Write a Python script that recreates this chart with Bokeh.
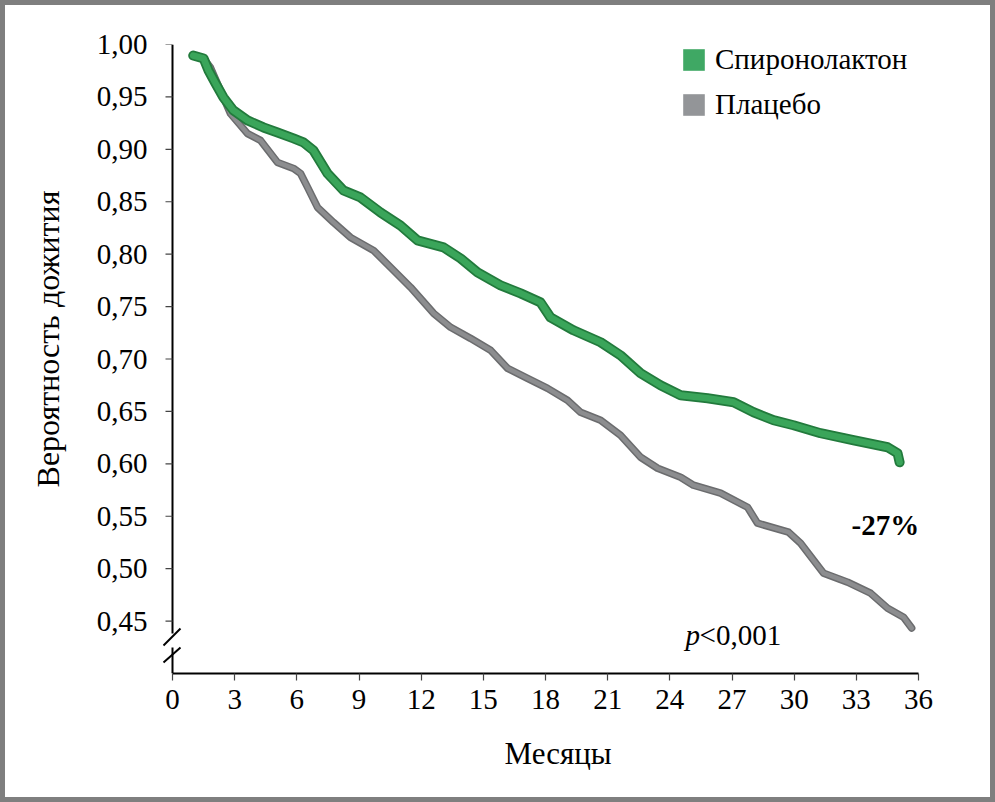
import math
from bokeh.plotting import figure
from bokeh.models import FixedTicker, Legend, LegendItem, Label, Title
from bokeh.embed import file_html
from bokeh.resources import INLINE

# ---- data ----
series_names = ["Спиронолактон", "Плацебо"]

months_spiro = [1.0, 1.5, 1.74, 2.08, 2.46, 2.94, 3.62, 4.39, 5.07, 5.84, 6.32, 6.8,
                7.48, 8.25, 9.07, 10.04, 11.0, 11.82, 13.08, 13.9, 14.72, 15.83, 16.8,
                17.76, 18.24, 19.35, 20.66, 21.62, 22.59, 23.55, 24.52, 25.82, 27.08,
                28.04, 29.0, 29.97, 31.27, 32.87, 34.51, 34.99, 35.09]
surv_spiro = [0.9895, 0.9867, 0.9752, 0.9628, 0.9495, 0.9371, 0.9276, 0.9209, 0.9161,
              0.9104, 0.9066, 0.899, 0.877, 0.8608, 0.8541, 0.8398, 0.8274, 0.8132,
              0.8065, 0.796, 0.7826, 0.7703, 0.7626, 0.754, 0.7397, 0.7274, 0.716,
              0.7035, 0.6864, 0.6749, 0.6654, 0.6625, 0.6587, 0.6492, 0.6416, 0.6368,
              0.6292, 0.6225, 0.6158, 0.6101, 0.6015]

months_plac = [1.0, 1.5, 1.83, 2.46, 2.8, 3.62, 4.25, 5.07, 5.84, 6.18, 6.52, 7.0, 7.77,
               8.59, 9.7, 10.67, 11.49, 12.6, 13.42, 14.38, 15.35, 16.17, 17.13, 18.1,
               19.06, 19.69, 20.66, 21.62, 22.59, 23.41, 24.52, 25.14, 26.45, 27.75,
               28.23, 29.73, 30.31, 30.94, 31.42, 32.58, 33.69, 34.51, 35.28, 35.67]
surv_plac = [0.9895, 0.9867, 0.978, 0.9495, 0.934, 0.915, 0.9085, 0.8875, 0.8818, 0.877,
             0.8637, 0.8446, 0.8303, 0.816, 0.8036, 0.7846, 0.7684, 0.7436, 0.7302,
             0.7197, 0.7083, 0.6911, 0.6816, 0.672, 0.6606, 0.6492, 0.6416, 0.6273,
             0.6063, 0.5958, 0.5872, 0.5796, 0.572, 0.5586, 0.5434, 0.5348, 0.5243,
             0.508, 0.4957, 0.4871, 0.4766, 0.4623, 0.4537, 0.4433]

x_ticks = [0, 3, 6, 9, 12, 15, 18, 21, 24, 27, 30, 33, 36]
y_ticks = [0.45, 0.50, 0.55, 0.60, 0.65, 0.70, 0.75, 0.80, 0.85, 0.90, 0.95, 1.00]
y_tick_labels = ["0,45", "0,50", "0,55", "0,60", "0,65", "0,70", "0,75", "0,80",
                 "0,85", "0,90", "0,95", "1,00"]
x_title = "Месяцы"
y_title = "Вероятность дожития"
effect_text = "-27%"
p_text_italic = "p"
p_text_rest = "<0,001"

FONT = "Liberation Serif"
FS = "29px"

# ---- layout constants (canvas pixels; the canvas sits inside a 5px grey frame) ----
W, H = 995, 802
BORDER = 5
MB_L, MB_R, MB_T, MB_B = 157, 82, 39, 134
FW, FH = W - MB_L - MB_R, H - MB_T - MB_B
PX_PER_MONTH = 746 / 36
X1 = 36
X0 = X1 - FW / PX_PER_MONTH   # small room left of the y axis for the break mark
Y0, Y1 = 0.40, 1.0
TICK = 7


def rx(px):   # reference-image pixel -> data x
    return X0 + (px - BORDER - MB_L) * (X1 - X0) / FW


def ry(py):   # reference-image pixel -> data y
    return Y1 - (py - BORDER - MB_T) * (Y1 - Y0) / FH


p = figure(width=W, height=H, x_range=(X0, X1), y_range=(Y0, Y1),
           output_backend="svg", toolbar_location=None,
           min_border_left=MB_L, min_border_right=MB_R, min_border_top=MB_T,
           min_border_bottom=MB_B,
           styles={"border": f"{BORDER}px solid #7f7f7f", "box-sizing": "border-box"})
p.grid.visible = False
p.outline_line_color = None
p.background_fill_color = "white"
p.border_fill_color = "white"

p.xaxis.ticker = FixedTicker(ticks=x_ticks)
p.yaxis.ticker = FixedTicker(ticks=y_ticks)
p.yaxis.major_label_overrides = {v: s for v, s in zip(y_ticks, y_tick_labels)}
p.xaxis.major_label_overrides = {v: str(v) for v in x_ticks}
p.xaxis.bounds = (0, X1)

for ax in (p.xaxis[0], p.yaxis[0]):
    ax.axis_line_color = "black"
    ax.axis_line_width = 2
    ax.major_tick_line_color = "#444444"
    ax.major_tick_line_width = 1.2
    ax.major_tick_in = 0
    ax.major_tick_out = TICK
    ax.minor_tick_line_color = None
    ax.major_label_text_font = FONT
    ax.major_label_text_font_size = FS
    ax.major_label_text_color = "black"
p.xaxis.major_label_standoff = 9
# the y axis line and ticks are drawn at x = 0 below (so the break mark can cross it)
p.yaxis.axis_line_color = None
p.yaxis.major_tick_line_color = None
p.yaxis.major_tick_out = 0
p.yaxis.major_label_standoff = 15

# y title: leading no-break spaces lift the visible text a little above the centre
p.yaxis.axis_label = "\u00a0" * 5 + y_title
p.yaxis.axis_label_text_font = FONT
p.yaxis.axis_label_text_font_size = "32px"
p.yaxis.axis_label_text_font_style = "normal"
p.yaxis.axis_label_text_color = "black"
p.yaxis.axis_label_standoff = 28

p.add_layout(Title(text=x_title, align="left", offset=342, standoff=44,
                   text_font=FONT, text_font_size="31px", text_font_style="normal",
                   text_color="black"), "below")

# ---- y axis at x = 0 with a break between the slashes ----
gap_lo, gap_hi = ry(647), ry(633)
p.segment(x0=[0, 0], y0=[Y0, gap_hi], x1=[0, 0], y1=[gap_lo, Y1],
          line_color="black", line_width=2)
p.segment(x0=[-TICK / PX_PER_MONTH] * len(y_ticks), y0=y_ticks,
          x1=[0] * len(y_ticks), y1=y_ticks, line_color="#444444", line_width=1.2)
brk = [(163, 645, 180, 628), (163, 662, 180, 647)]
p.segment(x0=[rx(b[0]) for b in brk], y0=[ry(b[1]) for b in brk],
          x1=[rx(b[2]) for b in brk], y1=[ry(b[3]) for b in brk],
          line_color="black", line_width=2)

# ---- survival curves (thick with darker edge) ----
p.line(months_plac, surv_plac, line_width=7.5, line_color="#6b6c6e",
       line_join="round", line_cap="round")
p.line(months_plac, surv_plac, line_width=4.5, line_color="#8c8d8f",
       line_join="round", line_cap="round")
p.line(months_spiro, surv_spiro, line_width=10, line_color="#227a3c",
       line_join="round", line_cap="round")
p.line(months_spiro, surv_spiro, line_width=6.5, line_color="#3aa55a",
       line_join="round", line_cap="round")

# ---- legend (square swatches) ----
nan = float("nan")
r_sp = p.quad(left=[nan], right=[nan], top=[nan], bottom=[nan],
              fill_color="#3fa864", line_color=None)
r_pl = p.quad(left=[nan], right=[nan], top=[nan], bottom=[nan],
              fill_color="#939598", line_color=None)
legend = Legend(items=[LegendItem(label=series_names[0], renderers=[r_sp]),
                       LegendItem(label=series_names[1], renderers=[r_pl])],
                location=(518, 552), glyph_width=27, glyph_height=27,
                label_height=27, spacing=12, padding=0, margin=0,
                border_line_color=None, background_fill_alpha=0,
                label_text_font=FONT, label_text_font_size=FS,
                label_standoff=8, label_text_color="black")
p.add_layout(legend)

# ---- annotations ----
p.add_layout(Label(x=34.4, y=0.5415, text=effect_text, text_align="center",
                   text_baseline="middle", text_font=FONT, text_font_size=FS,
                   text_font_style="bold", text_color="black"))
p.add_layout(Label(x=24.76, y=0.4366, text=p_text_italic, text_align="left",
                   text_baseline="alphabetic", text_font=FONT, text_font_size=FS,
                   text_font_style="italic", text_color="black"))
p.add_layout(Label(x=24.76, y=0.4366, x_offset=14, text=p_text_rest, text_align="left",
                   text_baseline="alphabetic", text_font=FONT, text_font_size=FS,
                   text_color="black"))

open("out.html", "w").write(file_html(p, INLINE))
